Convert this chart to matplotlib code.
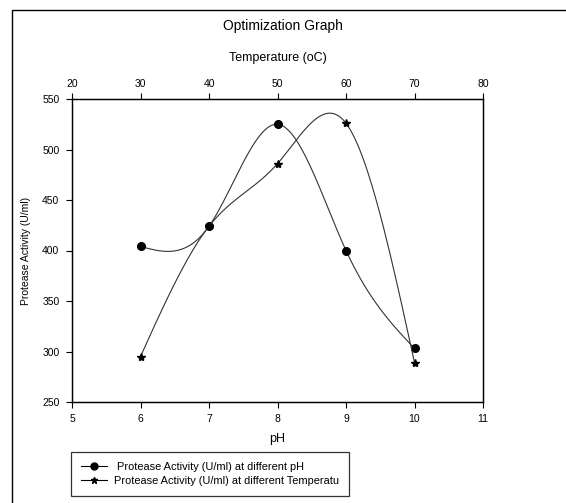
import numpy as np
import matplotlib
matplotlib.use("Agg")
import matplotlib.pyplot as plt
from matplotlib.patches import Rectangle
from matplotlib.lines import Line2D

plt.rcParams['font.family'] = ['Liberation Sans', 'DejaVu Sans']

ph = [6, 7, 8, 9, 10]
ph_activity = [404, 424, 525, 400, 303]
temp = [30, 40, 50, 60, 70]
temp_activity = [295, 424, 486, 526, 289]

title = "Optimization Graph"
xlabel_bottom = "pH"
xlabel_top = "Temperature (oC)"
ylabel = "Protease Activity (U/ml)"
legend_labels = [" Protease Activity (U/ml) at different pH",
                 "Protease Activity (U/ml) at different Temperatu"]


def natural_spline(x, y, n=200):
    x = np.asarray(x, float)
    y = np.asarray(y, float)
    k = len(x)
    h = np.diff(x)
    A = np.zeros((k, k))
    b = np.zeros(k)
    A[0, 0] = 1
    A[-1, -1] = 1
    for i in range(1, k - 1):
        A[i, i - 1] = h[i - 1]
        A[i, i] = 2 * (h[i - 1] + h[i])
        A[i, i + 1] = h[i]
        b[i] = 6 * ((y[i + 1] - y[i]) / h[i] - (y[i] - y[i - 1]) / h[i - 1])
    M = np.linalg.solve(A, b)
    xs = np.linspace(x[0], x[-1], n)
    ys = np.empty_like(xs)
    for j, xv in enumerate(xs):
        i = min(np.searchsorted(x, xv) - 1, k - 2)
        i = max(i, 0)
        t1 = x[i + 1] - xv
        t0 = xv - x[i]
        ys[j] = (M[i] * t1 ** 3 / (6 * h[i]) + M[i + 1] * t0 ** 3 / (6 * h[i])
                 + (y[i] / h[i] - M[i] * h[i] / 6) * t1
                 + (y[i + 1] / h[i] - M[i + 1] * h[i] / 6) * t0)
    return xs, ys


fig = plt.figure(figsize=(5.66, 5.03), dpi=100)
fig.patch.set_facecolor('white')

# outer frame
fig.patches.append(Rectangle((12 / 566, -0.05), 1.2, 1 - 10 / 503 + 0.05,
                             transform=fig.transFigure, fill=False,
                             edgecolor='black', linewidth=1.0, clip_on=False))

ax = fig.add_axes([72 / 566, 1 - 402 / 503, (483 - 72) / 566, (402 - 99) / 503])
ax.set_xlim(5, 11)
ax.set_ylim(250, 550)
ax.set_xticks([5, 6, 7, 8, 9, 10, 11])
ax.set_yticks([250, 300, 350, 400, 450, 500, 550])
ax.tick_params(direction='out', length=4, width=0.8, labelsize=7.5, pad=5)
ax.set_xlabel(xlabel_bottom, fontsize=9, labelpad=6)
ax.set_ylabel(ylabel, fontsize=7.5, labelpad=8)

ax2 = ax.twiny()
ax2.set_xlim(20, 80)
ax2.set_xticks([20, 30, 40, 50, 60, 70, 80])
ax2.tick_params(direction='out', length=4, width=0.8, labelsize=7.5, pad=3)
ax2.set_xlabel(xlabel_top, fontsize=9, labelpad=13)

for a in (ax, ax2):
    for s in a.spines.values():
        s.set_linewidth(0.9)

xs, ys = natural_spline(ph, ph_activity)
ax.plot(xs, ys, color='#333333', lw=0.8)
ax.plot(ph, ph_activity, 'o', color='black', ms=5.5)

xt, yt = natural_spline(temp, temp_activity)
ax2.plot(xt, yt, color='#333333', lw=0.8)
ax2.plot(temp, temp_activity, '*', color='black', ms=6)

fig.text(283 / 566, 1 - 26 / 503, title, ha='center', va='center', fontsize=10)

handles = [Line2D([], [], color='black', lw=0.8, marker='o', ms=5),
           Line2D([], [], color='black', lw=0.8, marker='*', ms=5)]
leg = fig.legend(handles, legend_labels, loc='upper left',
                 bbox_to_anchor=(71 / 566, 1 - 452 / 503),
                 fontsize=7.9, frameon=True, fancybox=False, borderpad=0.9,
                 handlelength=2.4, handletextpad=0.6, labelspacing=0.4,
                 borderaxespad=0)
leg.get_frame().set_edgecolor('black')
leg.get_frame().set_linewidth(0.9)

fig.savefig('out.png', dpi=100)
